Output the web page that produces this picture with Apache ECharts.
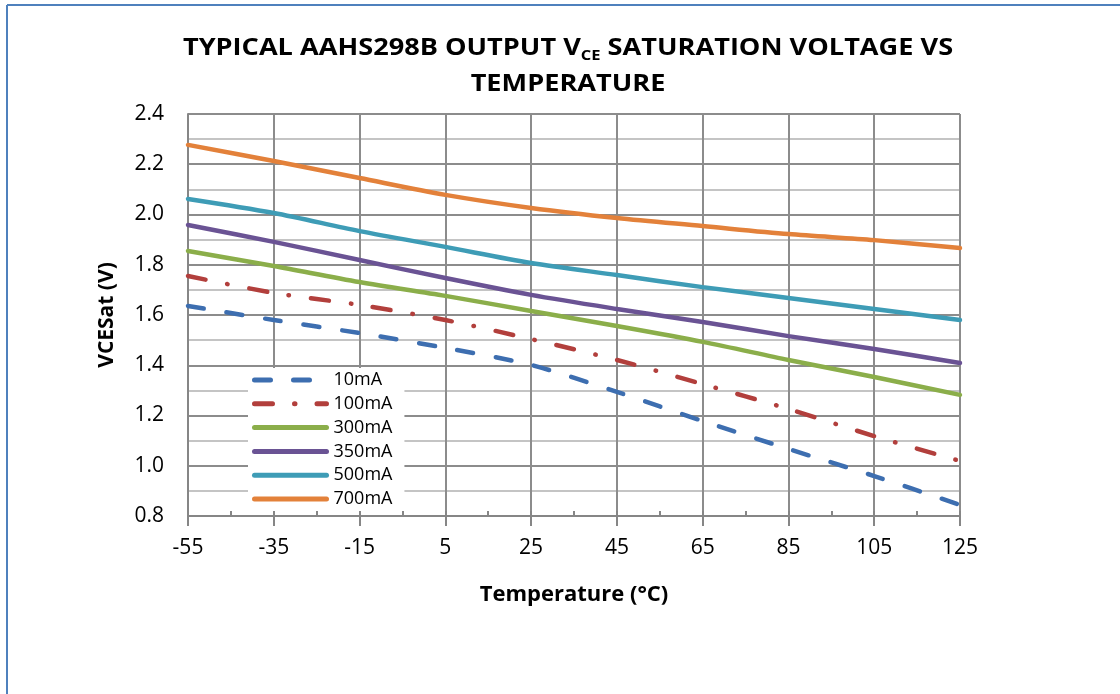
<!DOCTYPE html>
<html><head><meta charset="utf-8">
<script src="https://cdn.jsdelivr.net/npm/echarts@6/dist/echarts.min.js"></script>
<style>html,body{margin:0;padding:0;background:#fff}#c{width:1120px;height:694px}</style>
</head><body><div id="c"></div>
<script>
const temps = [-55, -35, -15, 5, 25, 45, 65, 85, 105, 125];
const s10mA  = [1.636, 1.580, 1.528, 1.469, 1.401, 1.294, 1.178, 1.067, 0.959, 0.844];
const s100mA = [1.755, 1.688, 1.640, 1.580, 1.504, 1.421, 1.325, 1.226, 1.118, 1.019];
const s300mA = [1.855, 1.795, 1.731, 1.676, 1.616, 1.556, 1.493, 1.421, 1.353, 1.282];
const s350mA = [1.958, 1.891, 1.819, 1.747, 1.680, 1.624, 1.572, 1.516, 1.465, 1.409];
const s500mA = [2.062, 2.006, 1.934, 1.871, 1.807, 1.759, 1.711, 1.668, 1.624, 1.580];
const s700mA = [2.277, 2.213, 2.145, 2.078, 2.026, 1.986, 1.954, 1.922, 1.898, 1.867];
const seriesNames = ['10mA', '100mA', '300mA', '350mA', '500mA', '700mA'];
const xTicks = [-55, -35, -15, 5, 25, 45, 65, 85, 105, 125];

const FONT = '"Open Sans", sans-serif';
const colors = ['#3D6EB0', '#B23F3C', '#8BAE4A', '#6A5394', '#3E9CB6', '#E3813A'];
const dashes = [[16, 23], [18, 22, 0.5, 22], 'solid', 'solid', 'solid', 'solid'];
const values = [s10mA, s100mA, s300mA, s350mA, s500mA, s700mA];

const chart = echarts.init(document.getElementById('c'), null, {renderer: 'canvas'});
const series = values.map((vals, i) => ({
  name: seriesNames[i],
  type: 'line',
  data: temps.map((t, k) => [t, vals[k]]),
  smooth: 0.3,
  symbol: 'none',
  lineStyle: {color: colors[i], width: 4.5, type: dashes[i], cap: 'round'},
  itemStyle: {color: colors[i]},
  z: 10 - i
}));

chart.setOption({
  animation: false,
  backgroundColor: '#fff',
  graphic: [
    {type: 'line', shape: {x1: 7, y1: 5, x2: 1120, y2: 5}, style: {stroke: '#4F81BD', lineWidth: 2}},
    {type: 'line', shape: {x1: 7, y1: 5, x2: 7, y2: 694}, style: {stroke: '#4F81BD', lineWidth: 2}},
    {type: 'text', x: 568, y: 33, scaleX: 1.18, style: {
      text: '{a|TYPICAL AAHS298B OUTPUT V}{s|CE}{a| SATURATION VOLTAGE VS}',
      align: 'center', verticalAlign: 'top',
      rich: {
        a: {fontFamily: FONT, fontWeight: 'bold', fontSize: 23, fill: '#000', lineHeight: 30},
        s: {fontFamily: FONT, fontWeight: 'bold', fontSize: 14, fill: '#000', lineHeight: 30, padding: [16, 0, 0, 0]}
      }}},
    {type: 'text', x: 568, y: 73, scaleX: 1.18, style: {
      text: 'TEMPERATURE', align: 'center', verticalAlign: 'top',
      fontFamily: FONT, fontWeight: 'bold', fontSize: 23, fill: '#000'}}
  ],
  grid: {left: 188, right: 160, top: 114, bottom: 178, containLabel: false},
  legend: {
    orient: 'vertical', left: 248, top: 368,
    itemWidth: 72, itemHeight: 14, itemGap: 5.8,
    backgroundColor: '#fff', padding: [3, 12, 3, 4],
    itemStyle: {opacity: 0},
    lineStyle: {width: 5, cap: 'round'},
    textStyle: {fontFamily: FONT, fontSize: 18, color: '#000', padding: [0, 0, 0, 2]},
    data: seriesNames
  },
  xAxis: [{
    type: 'value', min: -55, max: 125, interval: 20,
    name: 'Temperature (°C)', nameLocation: 'middle', nameGap: 68,
    nameTextStyle: {fontFamily: FONT, fontWeight: 'bold', fontSize: 22, color: '#000'},
    axisLine: {show: true, onZero: false, lineStyle: {color: '#868686', width: 2}},
    axisTick: {show: true, length: 10, lineStyle: {color: '#868686', width: 2}},
    axisLabel: {fontFamily: FONT, fontSize: 21, color: '#000', margin: 22,
      customValues: xTicks},
    splitLine: {show: true, lineStyle: {color: '#8c8c8c', width: 2}}
  }, {
    type: 'value', min: -55, max: 125, interval: 10, position: 'bottom',
    axisLine: {show: false, onZero: false}, axisLabel: {show: false}, splitLine: {show: false},
    axisTick: {show: true, inside: true, length: 5, lineStyle: {color: '#868686', width: 2}}
  }],
  yAxis: {
    type: 'value', min: 0.8, max: 2.4, interval: 0.2,
    name: 'VCESat (V)', nameLocation: 'middle', nameGap: 70, nameRotate: 90,
    nameTextStyle: {fontFamily: FONT, fontWeight: 'bold', fontSize: 21, color: '#000'},
    axisLine: {show: true, onZero: false, lineStyle: {color: '#868686', width: 2}},
    axisTick: {show: false},
    axisLabel: {fontFamily: FONT, fontSize: 21, color: '#000', margin: 24,
      formatter: v => v.toFixed(1)},
    splitLine: {show: true, lineStyle: {color: '#8c8c8c', width: 2}},
    minorTick: {show: false, splitNumber: 2},
    minorSplitLine: {show: true, lineStyle: {color: '#c4c4c4', width: 2}}
  },
  series: series
});
</script></body></html>
